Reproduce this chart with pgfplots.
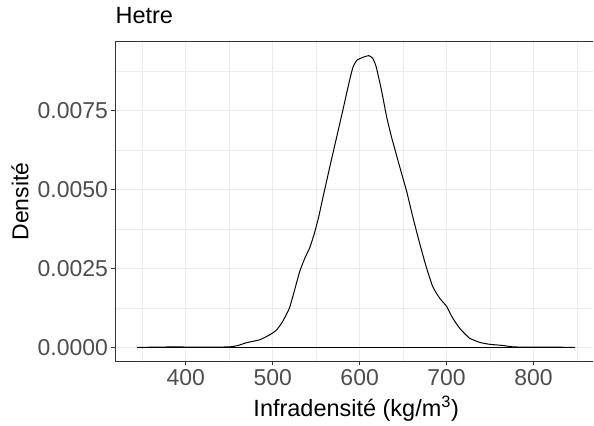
\documentclass[border=0pt]{standalone}
\usepackage{pgfplots}
\pgfplotsset{compat=1.18}
\usepackage{fontspec}
\setmainfont{Liberation Sans}
\definecolor{gridc}{HTML}{EBEBEB}
\definecolor{tickc}{HTML}{4D4D4D}
\definecolor{axc}{HTML}{333333}
\begin{document}
\begin{tikzpicture}
\path (-115.5pt,-64.3pt) rectangle (478.5pt,361.7pt);
\begin{axis}[
  at={(0pt,0pt)}, anchor=south west,
  scale only axis, width=478.5pt, height=320.2pt,
  xmin=318.97, xmax=869, ymin=-0.000443, ymax=0.00969,
  axis x line*=box, axis y line*=left,
  xtick={400,500,600,700,800}, minor xtick={350,450,550,650,750,850},
  ytick={0,0.0025,0.005,0.0075}, minor ytick={0.00125,0.00375,0.00625,0.00875},
  scaled y ticks=false,
  /pgf/number format/assume math mode=true,
  y tick label style={/pgf/number format/.cd, fixed, fixed zerofill, precision=4, /tikz/.cd},
  x tick label style={/pgf/number format/.cd, 1000 sep={}, /tikz/.cd},
  grid=both,
  major grid style={gridc, line width=1.1pt},
  minor grid style={gridc, line width=0.55pt},
  axis line style={axc, line width=1.1pt},
  tick style={axc, line width=1pt},
  tick align=outside, major tick length=4pt, minor tick length=0pt,
  xtick pos=lower, ytick pos=left,
  ticklabel style={font=\fontsize{23}{27}\selectfont, text=tickc, inner sep=0pt},
  xticklabel style={anchor=north, yshift=-4pt},
  yticklabel style={anchor=east, xshift=-3.2pt},
  title={Hetre},
  title style={at={(axis description cs:0,1.0381)}, anchor=base west, inner sep=0pt, font=\fontsize{23.5}{27}\selectfont},
  xlabel={Infradensité (kg/m\textsuperscript{3})},
  xlabel style={at={(axis cs:596,-0.000443)}, anchor=base, yshift=-55pt, inner sep=0pt, font=\fontsize{23.5}{27}\selectfont},
  ylabel={Densité},
  ylabel style={at={(axis description cs:-0.1822,0.5)}, anchor=base, inner sep=0pt, font=\fontsize{23}{27}\selectfont},
]
\addplot[black, line width=1pt] coordinates {(344,0) (848,0)};
\addplot[black, line width=1pt, smooth, tension=0.3] coordinates {
(344,0) (360,0.000005) (375,0.00001) (388,0.00002) (400,0.00001) (420,0.000005)
(440,0.00001) (452,0.00002) (460,0.00006) (470,0.00015) (485,0.00024)
(496,0.00039) (504,0.00054) (511,0.00080) (519,0.00123) (525,0.00180)
(531,0.00240) (537,0.00283) (542.5,0.00315) (548,0.00362) (553,0.00415)
(558,0.00478) (567.5,0.00594) (579,0.00731) (588.5,0.00847) (592.5,0.00889)
(597,0.00910) (604,0.00919) (610.5,0.00924) (615,0.00916) (619,0.00889)
(625,0.00816) (631,0.00731) (636.5,0.00668) (646,0.00573) (654,0.00495)
(661,0.00415) (669,0.00330) (676.5,0.00256) (684,0.00193) (692,0.00156)
(700,0.00130) (707,0.00093) (715,0.00061) (726,0.00030) (738,0.00016)
(749,0.00010) (765,0.00006) (775,0.00002) (790,0.000005) (810,0.00001)
(830,0.000005) (848,0)
};
\end{axis}
\end{tikzpicture}
\end{document}
